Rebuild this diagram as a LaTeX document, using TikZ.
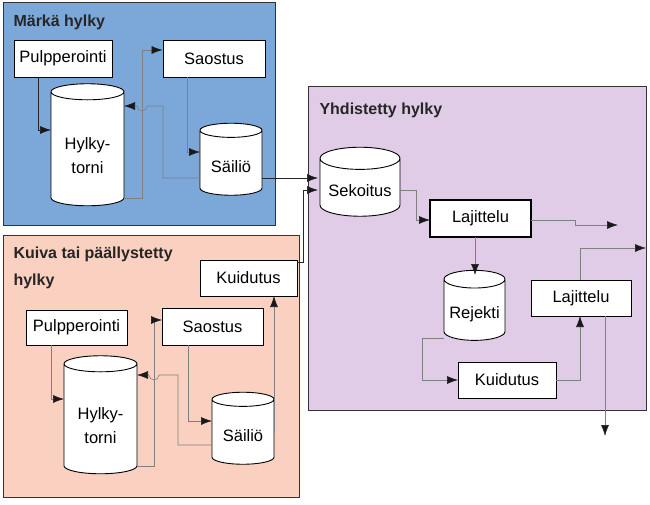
\documentclass[tikz,border=0pt]{standalone}
\usepackage{fontspec}
\setmainfont{Liberation Sans}
\usetikzlibrary{shapes.geometric,arrows.meta}
\begin{document}
\begin{tikzpicture}[x=1pt,y=-1pt,
  panel/.style={draw=black!80,line width=1pt},
  box/.style={draw=black,line width=0.9pt,fill=white,font=\fontsize{16.5}{19}\selectfont,inner sep=0pt},
  cyl/.style={cylinder,shape border rotate=90,draw=black,line width=0.9pt,fill=white,aspect=0.35,inner sep=0pt,align=center,font=\fontsize{16.5}{24}\selectfont},
  ttl/.style={font=\bfseries\fontsize{16}{27}\selectfont,anchor=west,align=left,color=black!85},
  con/.style={draw=black!50,line width=0.6pt,-{Latex[length=11pt,width=8pt,color=black!90]}},
  conk/.style={draw=black!85,line width=0.7pt,-{Latex[length=11pt,width=8pt,color=black!90]}}]
\useasboundingbox (0,0) rectangle (650,505);
\fill[white] (0,0) rectangle (650,505);
% panels
\draw[panel,fill={rgb,255:red,123;green,167;blue,217}] (3,3) rectangle (275,225);
\draw[panel,fill={rgb,255:red,250;green,208;blue,192}] (3,235) rectangle (299,497);
\draw[panel,fill={rgb,255:red,224;green,204;blue,230}] (308,87) rectangle (646,410);
\node[ttl] (t1) at (10,22) {Märkä hylky};
\node[ttl] (t2) at (316,110) {Yhdistetty hylky};
\node[ttl] (t3) at (10,268) {Kuiva tai päällystetty\\hylky};
% blue
\node[box,minimum width=98,minimum height=37] (p1) at (63,58.5) {Pulpperointi};
\node[box,minimum width=102,minimum height=37] (s1) at (214,58.5) {Saostus};
\node[cyl,minimum width=73,minimum height=122] (h1) at (87.5,149) {\\[2pt]Hylky-\\torni};
\node[cyl,minimum width=62,minimum height=72] (v1) at (231,163) {\\[-4pt]Säiliö};
% pink
\node[box,minimum width=97,minimum height=36] (k1) at (248.5,278) {Kuidutus};
\node[box,minimum width=101,minimum height=35] (p2) at (76.5,327.5) {Pulpperointi};
\node[box,minimum width=101,minimum height=37] (s2) at (212.5,326.5) {Saostus};
\node[cyl,minimum width=73,minimum height=118] (h2) at (100.5,419) {\\[2pt]Hylky-\\torni};
\node[cyl,minimum width=62,minimum height=72] (v2) at (243,432) {\\[-4pt]Säiliö};
% purple
\node[cyl,minimum width=80,minimum height=69] (sk) at (360,187.5) {\\[-6pt]Sekoitus};
\node[box,line width=1.3pt,minimum width=101,minimum height=37] (l1) at (480.5,218.5) {Lajittelu};
\node[cyl,minimum width=61,minimum height=70] (rj) at (474.5,310) {\\[-4pt]Rejekti};
\node[box,minimum width=100,minimum height=36] (l2) at (581,298) {Lajittelu};
\node[box,minimum width=98,minimum height=36] (k2) at (507,380) {Kuidutus};
\coordinate (o1) at (618,225);
\coordinate (o2) at (646,248);
\coordinate (o3) at (605,436);
% blue connectors
\draw[conk] (38,77) -- (38,130) -- (51,130);
\draw[con] (124,198) -- (142,198) -- (142,50) -- (s1.west|-0,50);
\draw[con] (187,77) -- (187,152) -- (200,152);
\draw[con] (200,178) -- (163,178) -- (163,106) -- (147,106) arc[start angle=0,end angle=180,radius=5] -- (124,106);
\draw[conk] (262,178) -- (318,178);
% pink connectors
\draw[con] (51,345) -- (51,399) -- (64,399);
\draw[con] (137,466) -- (154,466) -- (154,320) -- (162,320);
\draw[con] (188,345) -- (188,421) -- (212,421);
\draw[con] (212,445) -- (178,445) -- (178,375) -- (159,375) arc[start angle=0,end angle=180,radius=5] -- (137,375);
\draw[con] (274,433) -- (274,296);
\draw[conk] (297,262) -- (303,262) -- (303,190) -- (318,190);
% purple connectors
\draw[con] (400,190) -- (416,190) -- (416,220) -- (430,220);
\draw[con] (531,220) -- (575,220) -- (575,225) -- (o1);
\draw[con] (475,237) -- (475,275);
\draw[con] (444,338) -- (422,338) -- (422,380) -- (458,380);
\draw[con] (556,380) -- (580,380) -- (580,316);
\draw[con] (580,280) -- (580,248) -- (o2);
\draw[con] (605,316) -- (o3);
\end{tikzpicture}
\end{document}
